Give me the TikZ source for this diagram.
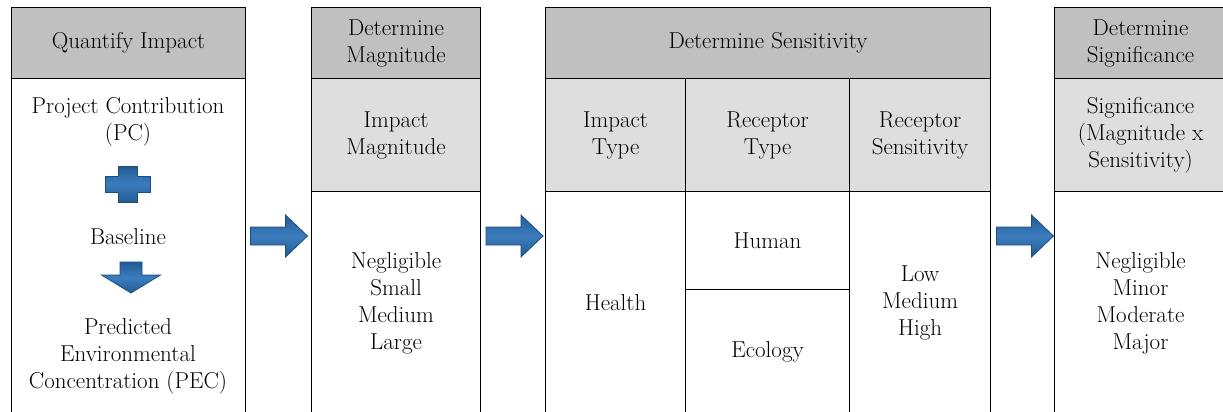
\documentclass[tikz,border=0pt]{standalone}
\usepackage{xcolor}
\usepackage{tikz}

\definecolor{hdrgray}{RGB}{192,192,192}
\definecolor{subgray}{RGB}{222,222,222}
\definecolor{arrowedge}{RGB}{31,78,121}
\definecolor{arrowdark}{RGB}{34,90,150}
\definecolor{arrowlight}{RGB}{60,125,190}

\begin{document}
\begin{tikzpicture}[x=1pt,y=-1pt,
  cell/.style={draw,line width=1.1pt,inner sep=0pt,anchor=north west,align=center,font=\fontsize{23}{27}\selectfont},
  hdr/.style={cell,fill=hdrgray},
  subhdr/.style={cell,fill=subgray},
  body/.style={cell,fill=white},
  txt/.style={inner sep=0pt,align=center,font=\fontsize{23}{27}\selectfont},
  bluefill/.style={draw=arrowedge,line width=0.8pt,top color=arrowdark,bottom color=arrowdark,middle color=arrowlight},
  fatarrow/.pic={\path[bluefill] (-28,-9) -- (7,-9) -- (7,-21) -- (29,0) -- (7,21) -- (7,9) -- (-28,9) -- cycle;},
  plussign/.pic={\path[bluefill] (-9.5,-18) -- (9.5,-18) -- (9.5,-8) -- (22.5,-8) -- (22.5,8) -- (9.5,8) -- (9.5,18) -- (-9.5,18) -- (-9.5,8) -- (-22.5,8) -- (-22.5,-8) -- (-9.5,-8) -- cycle;},
  downarrow/.pic={\path[bluefill] (-11,-15.5) -- (11,-15.5) -- (11,-2.5) -- (29.5,-2.5) -- (0,15.5) -- (-29.5,-2.5) -- (-11,-2.5) -- cycle;}]
  \useasboundingbox[fill=white] (0,0) rectangle (1223,412);

  % quantify impact
  \node[hdr,minimum width=234,minimum height=71] (qihdr) at (11,7) {Quantify Impact};
  \node[body,minimum width=234,minimum height=336] (qibody) at (11,78) {};
  \node[txt] (pc) at (128,122) {Project Contribution\\(PC)};
  \pic at (127.5,184) {plussign};
  \node[txt] (base) at (128,237) {Baseline};
  \pic at (131,277.5) {downarrow};
  \node[txt] (pec) at (128,356) {Predicted\\Environmental\\Concentration (PEC)};

  % magnitude
  \node[hdr,minimum width=169,minimum height=71] (maghdr) at (311,7) {Determine\\Magnitude};
  \node[subhdr,minimum width=169,minimum height=113] (magsub) at (311,78) {Impact\\Magnitude};
  \node[body,minimum width=169,minimum height=223] (magbody) at (311,191) {Negligible\\Small\\Medium\\Large};

  % sensitivity
  \node[hdr,minimum width=445,minimum height=71] (senhdr) at (545,7) {Determine Sensitivity};
  \node[subhdr,minimum width=140,minimum height=113] (itype) at (545,78) {Impact\\Type};
  \node[subhdr,minimum width=164,minimum height=113] (rtype) at (685,78) {Receptor\\Type};
  \node[subhdr,minimum width=141,minimum height=113] (rsens) at (849,78) {Receptor\\Sensitivity};
  \node[body,minimum width=140,minimum height=223] (health) at (545,191) {Health};
  \node[body,minimum width=164,minimum height=98] (human) at (685,191) {Human};
  \node[body,minimum width=164,minimum height=125] (ecology) at (685,289) {Ecology};
  \node[body,minimum width=141,minimum height=223] (levels) at (849,191) {Low\\Medium\\High};

  % significance
  \node[hdr,minimum width=172,minimum height=71] (sighdr) at (1054,7) {Determine\\Significance};
  \node[subhdr,minimum width=172,minimum height=113] (sigsub) at (1054,78) {Significance\\(Magnitude x\\Sensitivity)};
  \node[body,minimum width=172,minimum height=223] (sigbody) at (1054,191) {Negligible\\Minor\\Moderate\\Major};

  % arrows between steps
  \pic at (278.5,236) {fatarrow};
  \pic at (514,236) {fatarrow};
  \pic at (1024.5,236) {fatarrow};
\end{tikzpicture}
\end{document}
